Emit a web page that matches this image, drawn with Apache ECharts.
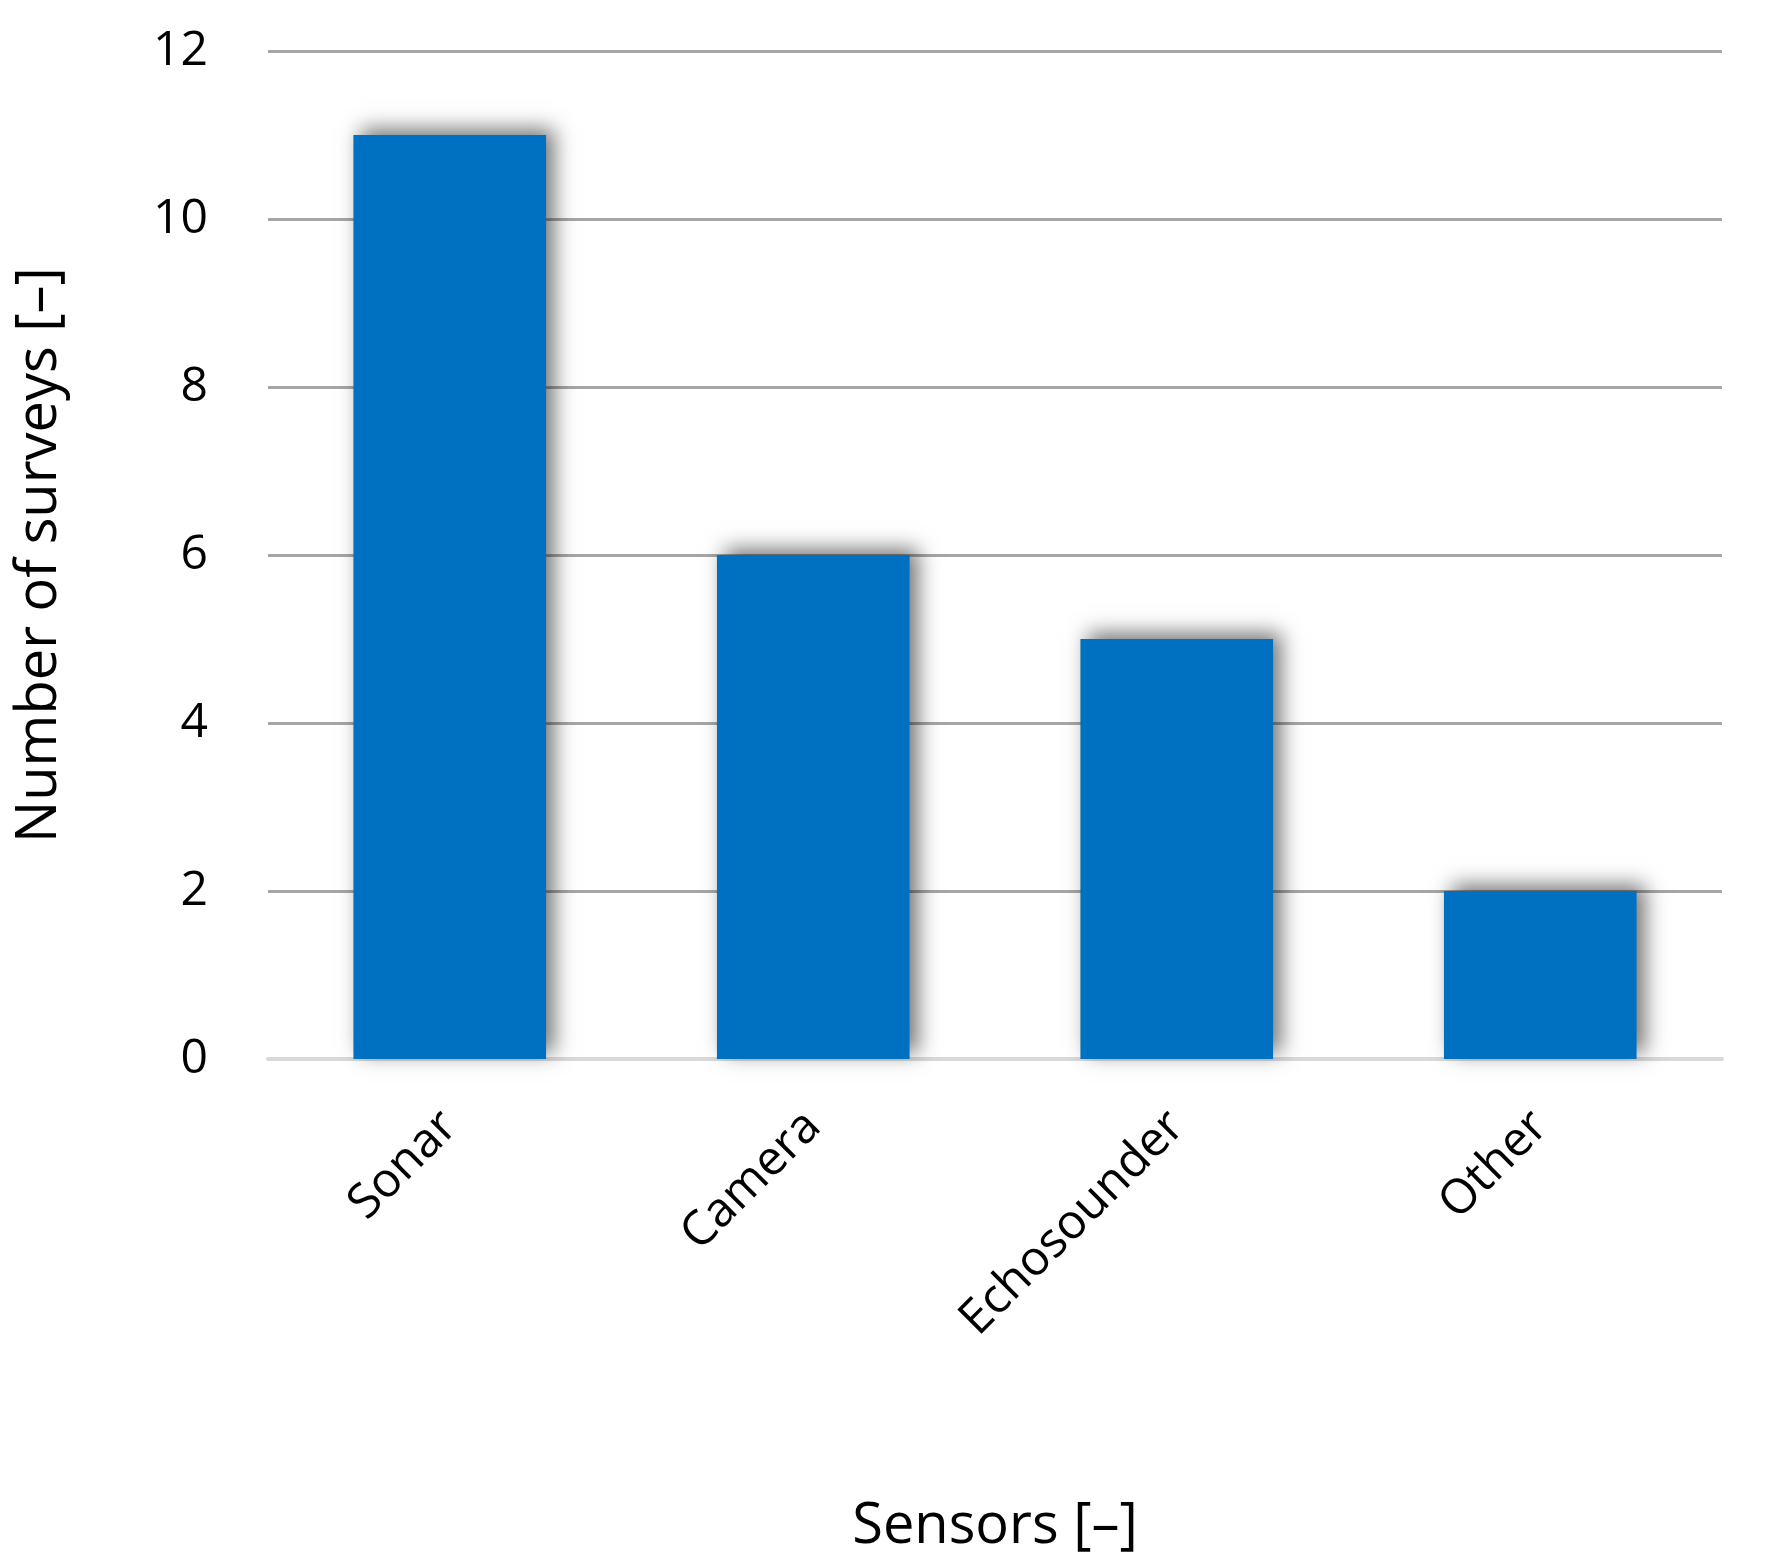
<!DOCTYPE html>
<html>
<head>
<meta charset="utf-8">
<script src="https://cdn.jsdelivr.net/npm/echarts@6/dist/echarts.min.js"></script>
<style>html,body{margin:0;padding:0;background:#fff}#main{width:1767px;height:1560px}</style>
</head>
<body>
<div id="main"></div>
<script>
var categories = ['Sonar', 'Camera', 'Echosounder', 'Other'];
var surveys = [11, 6, 5, 2];
var yTicks = [0, 2, 4, 6, 8, 10, 12];

var font = '"Open Sans", Lato, sans-serif';
var chart = echarts.init(document.getElementById('main'));
chart.setOption({
    animation: false,
    grid: { left: 268, right: 45, top: 51, bottom: 498 },
    xAxis: {
        type: 'category',
        data: categories,
        name: 'Sensors [\u2013]',
        nameLocation: 'middle',
        nameGap: 440,
        nameTextStyle: { fontFamily: font, fontSize: 56, color: '#000' },
        axisLine: { lineStyle: { color: '#d9d9d9', width: 4 } },
        axisTick: { show: false },
        axisLabel: { rotate: 45, fontFamily: font, fontSize: 48, color: '#000', margin: 60 }
    },
    yAxis: {
        type: 'value',
        min: yTicks[0],
        max: yTicks[yTicks.length - 1],
        interval: 2,
        name: 'Number of surveys [\u2013]',
        nameLocation: 'middle',
        nameGap: 200,
        nameTextStyle: { fontFamily: font, fontSize: 56, color: '#000' },
        axisLine: { show: false },
        axisTick: { show: false },
        axisLabel: { fontFamily: font, fontSize: 48, color: '#000', margin: 60 },
        splitLine: { lineStyle: { color: '#a6a6a6', width: 3 } }
    },
    series: [{
        type: 'bar',
        data: surveys,
        barWidth: '53%',
        itemStyle: {
            color: '#0070c0',
            shadowColor: 'rgba(0,0,0,0.55)',
            shadowBlur: 20,
            shadowOffsetX: 8,
            shadowOffsetY: -6
        }
    }]
});
</script>
</body>
</html>
